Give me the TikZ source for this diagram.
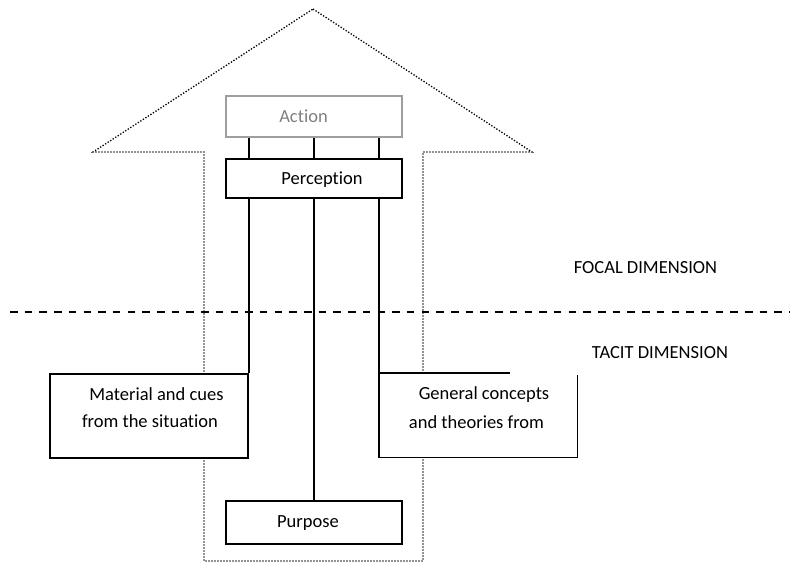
\documentclass[tikz,border=0pt]{standalone}
\usepackage{fontspec}
\setmainfont{Carlito}[RawFeature={-liga;-clig;-dlig;-calt}]
\usetikzlibrary{calc}
\newcommand{\nolig}{\kern0pt }
\tikzset{
  box/.style={draw=black, line width=1.8pt, fill=white, inner sep=0pt, anchor=north west},
  graybox/.style={box, draw=black!38},
  openbox/.style={fill=white, inner sep=0pt, anchor=north west},
  txt/.style={inner sep=0pt, font=\fontsize{18.5}{22}\selectfont},
  link/.style={line width=1.8pt},
  outline/.style={line width=1.3pt, dash pattern=on 1.3pt off 1.7pt},
  divider/.style={line width=2.2pt, dash pattern=on 7.5pt off 7.2pt}
}
\begin{document}
\begin{tikzpicture}[x=1pt,y=-1pt]
\useasboundingbox (0,0) rectangle (790,565);
% big arrow outline
\draw[outline] (313,9) -- (532,152) -- (423,152) -- (423,561) -- (204,561) -- (204,152) -- (93,152) -- cycle;
% divider
\draw[divider] (10,312) -- (790,312);
% boxes
\node[graybox, minimum width=176pt, minimum height=41pt] (act) at (225,95) {};
\node[box, minimum width=176pt, minimum height=39pt] (perc) at (225,158) {};
\node[box, minimum width=198pt, minimum height=84pt] (mat) at (49,373) {};
\node[openbox, minimum width=198pt, minimum height=84pt] (gen) at (379,373) {};
\node[box, minimum width=176pt, minimum height=43pt] (purp) at (225,500) {};
% general box outline with open corner
\draw[link] ($(gen.north west)+(131,0)$) -- (gen.north west) -- (gen.south west) -- (gen.south east) -- ($(gen.north east)+(0,2)$);
% connectors
\draw[link] (act.south -| mat.north east) -- (perc.north -| mat.north east);
\draw[link] (act.south) -- (perc.north);
\draw[link] (act.south -| gen.north west) -- (perc.north -| gen.north west);
\draw[link] (perc.south -| mat.north east) -- (mat.north east);
\draw[link] (perc.south) -- (purp.north);
\draw[link] (perc.south -| gen.north west) -- (gen.north west);
% texts
\node[txt, text=black!50] (tact) at (303.5,116) {Act\nolig ion};
\node[txt] (tperc) at (322,180) {Percept\nolig ion};
\node[txt] (tmat1) at (156.5,394) {Material and cues};
\node[txt] (tmat2) at (150,421) {from the situat\nolig ion};
\node[txt] (tgen1) at (484,395) {General concepts};
\node[txt] (tgen2) at (476.5,422) {and theories from};
\node[txt] (tpurp) at (308,523) {Purpose};
\node[txt] (tfocal) at (645.5,268) {FOCAL DIMENSION};
\node[txt] (ttacit) at (660,353) {TACIT DIMENSION};
\end{tikzpicture}
\end{document}
